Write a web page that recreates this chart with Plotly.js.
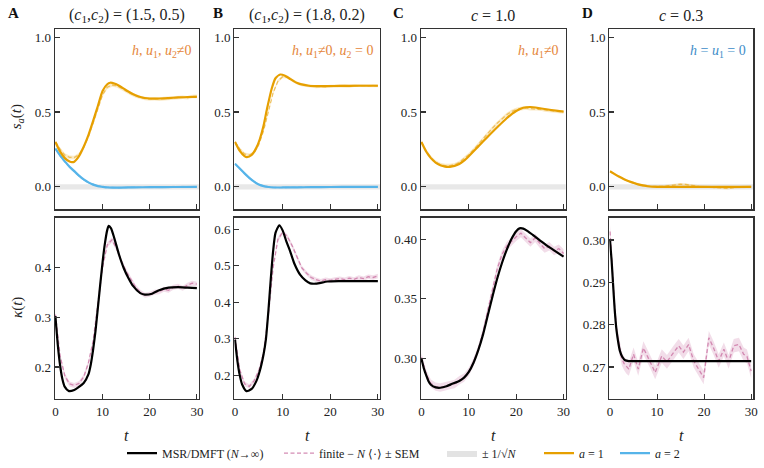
<!DOCTYPE html>
<html>
<head>
<meta charset="utf-8">
<script src="https://cdn.plot.ly/plotly-3.0.1.min.js"></script>
<style>
  html, body { margin: 0; padding: 0; background: #fff; }
  #chart { width: 764px; height: 468px; }
</style>
</head>
<body>
<div id="chart"></div>
<script>
// ---------- time grid shared by the finite-N simulations ----------
const tGrid = [0,1,2,3,4,5,6,7,8,9,10,11,12,13,14,15,16,17,18,19,20,21,22,23,24,25,26,27,28,29,30];

// ---------- Panel A: (c1,c2) = (1.5, 0.5) ----------
const tA1 = [0,1,2,3,3.5,4,5,6,7,8,9,10,11,11.6,12.5,13.5,15,16.6,18,20,22,24,26,28,30];
const sA1 = [0.300,0.235,0.192,0.170,0.165,0.168,0.205,0.268,0.345,0.440,0.540,0.640,0.685,0.695,0.690,0.675,0.645,0.617,0.600,0.590,0.590,0.593,0.597,0.600,0.601];
const tA2 = [0,1,2,3,4,5,6,7,8,9,10,11,12,14,17,20,25,30];
const sA2 = [0.255,0.210,0.170,0.135,0.105,0.075,0.050,0.030,0.015,0.005,0.000,-0.004,-0.005,-0.005,-0.003,-0.002,-0.001,0.000];
const sA1fin = [0.300,0.250,0.212,0.197,0.196,0.215,0.265,0.335,0.425,0.525,0.615,0.665,0.680,0.676,0.660,0.640,0.622,0.607,0.596,0.590,0.586,0.588,0.585,0.590,0.592,0.590,0.596,0.598,0.595,0.603,0.604];
const sA2fin = [0.255,0.205,0.165,0.130,0.100,0.072,0.047,0.029,0.015,0.006,0.000,-0.004,-0.003,-0.006,-0.004,-0.002,-0.005,-0.002,-0.004,-0.001,-0.003,-0.002,0.000,-0.003,-0.004,0.002,-0.002,0.001,-0.002,0.000,0.001];
const tAk = [0,0.5,1,1.5,2,2.8,4,5,6,7,7.5,8,8.5,9,9.5,10,10.5,11,11.3,11.8,12.5,13.5,14.5,15.5,16.5,18,19,20.5,22,24,26,28,30];
const kA = [0.302,0.245,0.203,0.175,0.160,0.152,0.154,0.160,0.168,0.185,0.205,0.235,0.272,0.318,0.365,0.410,0.448,0.475,0.483,0.478,0.458,0.425,0.398,0.378,0.362,0.348,0.345,0.347,0.354,0.359,0.360,0.359,0.358];
const kAfin = [0.305,0.222,0.182,0.166,0.163,0.167,0.180,0.208,0.252,0.325,0.400,0.445,0.455,0.437,0.412,0.392,0.375,0.360,0.350,0.344,0.346,0.350,0.351,0.356,0.354,0.360,0.362,0.358,0.364,0.368,0.366];

// ---------- Panel B: (c1,c2) = (1.8, 0.2) ----------
const tB1 = [0,1,2,2.5,3.5,4.5,5.2,6,6.7,7.7,8.5,9.5,10.5,11.5,12.3,13.2,14,15.5,18,22,26,30];
const sB1 = [0.300,0.240,0.205,0.198,0.213,0.262,0.318,0.410,0.518,0.655,0.725,0.750,0.742,0.722,0.706,0.692,0.684,0.675,0.672,0.674,0.675,0.675];
const tB2 = [0,1,2,3,4,5,6,7,8,10,13,16,20,25,30];
const sB2 = [0.155,0.122,0.090,0.060,0.035,0.016,0.005,-0.001,-0.004,-0.004,-0.003,-0.002,-0.001,0.000,0.000];
const sB1fin = [0.300,0.252,0.220,0.213,0.228,0.282,0.375,0.505,0.628,0.705,0.735,0.733,0.712,0.694,0.682,0.676,0.671,0.669,0.670,0.668,0.672,0.671,0.673,0.675,0.672,0.676,0.674,0.677,0.675,0.676,0.675];
const sB2fin = [0.155,0.120,0.088,0.058,0.034,0.016,0.006,0.000,-0.003,-0.005,-0.002,-0.004,-0.003,-0.001,-0.004,-0.002,-0.003,0.000,-0.002,-0.003,0.001,-0.002,-0.001,-0.003,0.000,0.002,-0.002,0.000,-0.001,0.001,0.000];
const tBk = [0,0.5,1,1.5,2.4,3.5,4.5,5.2,6,6.5,7,7.5,8,8.5,9.3,10,10.8,11.6,12.5,13.7,14.8,15.8,17,19.4,22,26,30];
const kB = [0.298,0.240,0.200,0.175,0.157,0.163,0.185,0.212,0.258,0.300,0.375,0.462,0.540,0.590,0.611,0.597,0.566,0.539,0.505,0.475,0.460,0.452,0.451,0.457,0.458,0.458,0.458];
const kBfin = [0.305,0.215,0.177,0.170,0.185,0.213,0.262,0.365,0.495,0.572,0.592,0.580,0.555,0.524,0.495,0.480,0.468,0.462,0.458,0.462,0.460,0.463,0.465,0.462,0.466,0.463,0.468,0.465,0.470,0.468,0.472];

// ---------- Panel C: c = 1.0 ----------
const tC1 = [0,1,2,3,4,5,6,7,8,9,10,12,14,16,18,20,21.5,23,25,27,30];
const sC1 = [0.300,0.236,0.192,0.162,0.144,0.135,0.134,0.140,0.153,0.175,0.205,0.270,0.335,0.398,0.458,0.506,0.528,0.533,0.525,0.515,0.502];
const sC1fin = [0.300,0.240,0.196,0.166,0.149,0.142,0.142,0.148,0.163,0.187,0.215,0.248,0.285,0.322,0.357,0.392,0.425,0.456,0.482,0.503,0.516,0.523,0.527,0.522,0.519,0.521,0.514,0.510,0.504,0.503,0.500];
const tCk = [0,0.5,1,1.5,2,3,4,5.3,6.5,8,9,10,11,12,13,14,15,16,17,18,19,20,20.7,21.5,22.5,23.5,25,26.5,28,30];
const kC = [0.300,0.292,0.286,0.281,0.278,0.2758,0.2755,0.2768,0.2788,0.2812,0.284,0.2888,0.2965,0.307,0.320,0.336,0.352,0.367,0.380,0.391,0.400,0.4065,0.409,0.4088,0.4065,0.4035,0.399,0.3945,0.3905,0.3853];
const kCfin = [0.301,0.287,0.279,0.2765,0.2757,0.2768,0.2778,0.2787,0.2818,0.2840,0.2888,0.2970,0.3075,0.322,0.340,0.358,0.375,0.387,0.394,0.398,0.402,0.405,0.401,0.397,0.401,0.396,0.392,0.394,0.390,0.392,0.388];

// ---------- Panel D: c = 0.3 ----------
const tD1 = [0,1,2,3,4,5,6,7,8,9,10,15,20,25,30];
const sD1 = [0.104,0.085,0.067,0.051,0.038,0.027,0.017,0.010,0.004,0.001,0.000,0.000,0.000,0.000,0.000];
const sD1fin = [0.102,0.084,0.066,0.050,0.037,0.026,0.016,0.009,0.004,0.002,0.002,0.003,0.006,0.010,0.015,0.018,0.016,0.010,0.005,0.002,0.001,0.000,-0.002,-0.004,-0.008,-0.010,-0.005,-0.001,0.000,0.001,0.002];
const tDk = [0,0.35,0.7,1,1.4,1.8,2.1,2.6,3.2,4,6,10,15,20,25,30];
const kD = [0.3000,0.2950,0.2887,0.2835,0.2785,0.2755,0.2738,0.2724,0.2716,0.2714,0.2714,0.2714,0.2714,0.2714,0.2714,0.2714];
const tDkfin = [0,0.5,1,1.5,2,2.5,3,3.5,4,5,6,7.1,8.5,9.6,11,12.1,13.5,14.6,15.6,16.7,17.8,18.8,19.9,21,22,23.1,24.2,25.2,26.3,27.4,28.4,29.1,30];
const kDfin = [0.3020,0.2930,0.2840,0.2780,0.2745,0.2720,0.2708,0.2700,0.2695,0.2730,0.2695,0.2745,0.2714,0.2687,0.2726,0.2712,0.2734,0.2750,0.2735,0.2753,0.2714,0.2695,0.2675,0.2769,0.2745,0.2714,0.2742,0.2712,0.2750,0.2753,0.2730,0.2725,0.2690];

// standard errors of the finite-N averages, and the 1/sqrt(N) scale
const semS = { A1: 0.012, A2: 0.006, B1: 0.010, B2: 0.005, C1: 0.012, D1: 0.008 };
const semK = { A: 0.005, B: 0.006, C: 0.0035, D: 0.0016 };
const invSqrtN = 0.018;

// ---------- styling ----------
const ORANGE = '#E69F00', BLUE = '#56B4E9', PINK = '#cc79a7';
const FONT = 'Liberation Serif, Times New Roman, serif';
const W = 764, H = 468;
const px = v => v / W;            // pixel -> paper x
const py = v => 1 - v / H;        // pixel -> paper y

const traces = [];

function semBand(t, m, sem, xa, ya, fill) {
  const up = m.map(v => v + sem);
  const lo = m.map(v => v - sem);
  traces.push({
    x: t.concat(t.slice().reverse()),
    y: up.concat(lo.slice().reverse()),
    xaxis: xa, yaxis: ya, type: 'scatter', mode: 'lines',
    fill: 'toself', fillcolor: fill, line: { width: 0 },
    hoverinfo: 'skip', showlegend: false
  });
}
function dashed(t, m, xa, ya, color, extra) {
  traces.push(Object.assign({
    x: t, y: m, xaxis: xa, yaxis: ya, type: 'scatter', mode: 'lines',
    line: { color: color, width: 1.3, dash: '4px,2.5px' }, showlegend: false
  }, extra || {}));
}
function solid(t, m, xa, ya, color, extra) {
  traces.push(Object.assign({
    x: t, y: m, xaxis: xa, yaxis: ya, type: 'scatter', mode: 'lines',
    line: { color: color, width: 2.2, shape: 'spline', smoothing: 0.6 }, showlegend: false
  }, extra || {}));
}

const bandO = 'rgba(230,159,0,0.22)', dashO = 'rgba(230,159,0,0.55)';
const bandB = 'rgba(86,180,233,0.25)', dashB = 'rgba(86,180,233,0.6)';
const bandP = 'rgba(204,121,167,0.25)', dashP = 'rgba(204,121,167,0.85)';

// top row: order parameters s_a(t)
semBand(tGrid, sA1fin, semS.A1, 'x', 'y', bandO);
semBand(tGrid, sA2fin, semS.A2, 'x', 'y', bandB);
dashed(tGrid, sA1fin, 'x', 'y', dashO);
dashed(tGrid, sA2fin, 'x', 'y', dashB);
solid(tA2, sA2, 'x', 'y', BLUE, { name: '<i>a</i> = 2', showlegend: true, legend: 'legend5' });
solid(tA1, sA1, 'x', 'y', ORANGE, { name: '<i>a</i> = 1', showlegend: true, legend: 'legend4' });

semBand(tGrid, sB1fin, semS.B1, 'x2', 'y2', bandO);
semBand(tGrid, sB2fin, semS.B2, 'x2', 'y2', bandB);
dashed(tGrid, sB1fin, 'x2', 'y2', dashO);
dashed(tGrid, sB2fin, 'x2', 'y2', dashB);
solid(tB2, sB2, 'x2', 'y2', BLUE);
solid(tB1, sB1, 'x2', 'y2', ORANGE);

semBand(tGrid, sC1fin, semS.C1, 'x3', 'y3', bandO);
dashed(tGrid, sC1fin, 'x3', 'y3', dashO);
solid(tC1, sC1, 'x3', 'y3', ORANGE);

semBand(tGrid, sD1fin, semS.D1, 'x4', 'y4', bandO);
dashed(tGrid, sD1fin, 'x4', 'y4', dashO);
solid(tD1, sD1, 'x4', 'y4', ORANGE);

// bottom row: kappa(t)
semBand(tGrid, kAfin, semK.A, 'x5', 'y5', bandP);
dashed(tGrid, kAfin, 'x5', 'y5', dashP, { name: 'finite \u2212 <i>N</i> \u27E8\u00B7\u27E9 \u00B1 SEM', showlegend: true, legend: 'legend2' });
solid(tAk, kA, 'x5', 'y5', '#000', { name: 'MSR/DMFT (<i>N</i>\u2192\u221E)', showlegend: true, legend: 'legend' });

semBand(tGrid, kBfin, semK.B, 'x6', 'y6', bandP);
dashed(tGrid, kBfin, 'x6', 'y6', dashP);
solid(tBk, kB, 'x6', 'y6', '#000');

semBand(tGrid, kCfin, semK.C, 'x7', 'y7', bandP);
dashed(tGrid, kCfin, 'x7', 'y7', dashP);
solid(tCk, kC, 'x7', 'y7', '#000');

semBand(tDkfin, kDfin, semK.D, 'x8', 'y8', bandP);
dashed(tDkfin, kDfin, 'x8', 'y8', dashP);
solid(tDk, kD, 'x8', 'y8', '#000', { line: { color: '#000', width: 2.2, shape: 'spline', smoothing: 0.4 } });

// legend-only entry for the 1/sqrt(N) band
traces.push({
  x: [null], y: [null], xaxis: 'x', yaxis: 'y', type: 'scatter', mode: 'lines',
  fill: 'toself', fillcolor: '#e3e3e3', line: { width: 0 },
  name: '\u00B1 1/\u221A<i>N</i>', showlegend: true, legend: 'legend3'
});

// ---------- axes ----------
const colX = [[54.7, 199], [234.3, 380], [420.7, 565.7], [609.3, 753.3]];
const rowTop = [29, 210.7], rowBot = [219, 401.7];
const xRange = [-0.15, 30.45];
const topRange = [-0.15, 1.055];
const botRanges = [[0.1355, 0.4996], [0.135, 0.632], [0.266, 0.418], [0.2624, 0.3053]];
const botTicks = [[0.2, 0.3, 0.4], [0.2, 0.3, 0.4, 0.5, 0.6], [0.30, 0.35, 0.40], [0.27, 0.28, 0.29, 0.30]];
const botFmt = ['.1f', '.1f', '.2f', '.2f'];

const axisBase = {
  showline: true, mirror: true, linecolor: '#333', linewidth: 1.2,
  ticks: 'inside', ticklen: 5, tickwidth: 1.1, tickcolor: '#333',
  showgrid: false, zeroline: false, fixedrange: true,
  tickfont: { family: FONT, size: 13, color: '#222' }
};

const layout = {
  width: W, height: H,
  margin: { l: 0, r: 0, t: 0, b: 0 },
  paper_bgcolor: '#fff', plot_bgcolor: '#fff',
  font: { family: FONT, color: '#222' },
  shapes: [], annotations: []
};

for (let i = 0; i < 4; i++) {
  const xd = [px(colX[i][0]), px(colX[i][1])];
  const top = i + 1, bot = i + 5;
  const xt = top === 1 ? 'xaxis' : 'xaxis' + top, yt = top === 1 ? 'yaxis' : 'yaxis' + top;
  layout[xt] = Object.assign({}, axisBase, {
    domain: xd, range: xRange, tickvals: [0, 10, 20, 30], showticklabels: false, anchor: 'y' + (top === 1 ? '' : top)
  });
  layout[yt] = Object.assign({}, axisBase, {
    domain: [py(rowTop[1]), py(rowTop[0])], range: topRange, tickvals: [0, 0.5, 1.0], tickformat: '.1f',
    anchor: 'x' + (top === 1 ? '' : top)
  });
  layout['xaxis' + bot] = Object.assign({}, axisBase, {
    domain: xd, range: xRange, tickvals: [0, 10, 20, 30], anchor: 'y' + bot
  });
  layout['yaxis' + bot] = Object.assign({}, axisBase, {
    domain: [py(rowBot[1]), py(rowBot[0])], range: botRanges[i], tickvals: botTicks[i], tickformat: botFmt[i],
    anchor: 'x' + bot
  });
  // +-1/sqrt(N) reference band around zero
  const xr = top === 1 ? 'x' : 'x' + top, yr = top === 1 ? 'y' : 'y' + top;
  layout.shapes.push({
    type: 'rect', xref: xr + ' domain', yref: yr, x0: 0, x1: 1,
    y0: -invSqrtN, y1: invSqrtN, fillcolor: '#e8e8e8', line: { width: 0 }, layer: 'below'
  });
}

// ---------- text ----------
function note(text, x, y, opts) {
  layout.annotations.push(Object.assign({
    text: text, xref: 'paper', yref: 'paper', x: px(x), y: py(y),
    xanchor: 'center', yanchor: 'middle', showarrow: false,
    font: { family: FONT, size: 14, color: '#222' }
  }, opts || {}));
}
const colCenter = colX.map(c => (c[0] + c[1]) / 2);
const titles = [
  '(<i>c</i><sub>1</sub>,<i>c</i><sub>2</sub>) = (1.5, 0.5)',
  '(<i>c</i><sub>1</sub>,<i>c</i><sub>2</sub>) = (1.8, 0.2)',
  '<i>c</i> = 1.0',
  '<i>c</i> = 0.3'
];
const letters = ['A', 'B', 'C', 'D'];
const letterX = [13, 218, 399, 587];
for (let i = 0; i < 4; i++) {
  note(titles[i], colCenter[i], 16, { font: { family: FONT, size: 16, color: '#222' } });
  note('<b>' + letters[i] + '</b>', letterX[i], 13, { font: { family: FONT, size: 15, color: '#111' } });
  note('<i>t</i>', colCenter[i], 438, { font: { family: FONT, size: 16, color: '#222' } });
}
const labelO = '#e5863a', labelB = '#3d8cc8';
note('<i>h</i>, <i>u</i><sub>1</sub>, <i>u</i><sub>2</sub>\u22600', 194, 52, { xanchor: 'right', font: { family: FONT, size: 14, color: labelO } });
note('<i>h</i>, <i>u</i><sub>1</sub>\u22600, <i>u</i><sub>2</sub> = 0', 375, 52, { xanchor: 'right', font: { family: FONT, size: 14, color: labelO } });
note('<i>h</i>, <i>u</i><sub>1</sub>\u22600', 561, 52, { xanchor: 'right', font: { family: FONT, size: 14, color: labelO } });
note('<i>h</i> = <i>u</i><sub>1</sub> = 0', 748, 52, { xanchor: 'right', font: { family: FONT, size: 14, color: labelB } });
note('<i>s<sub>a</sub></i>(<i>t</i>)', 17, 118, { textangle: -90, font: { family: FONT, size: 15, color: '#222' } });
note('<i>\u03BA</i>(<i>t</i>)', 17, 310, { textangle: -90, font: { family: FONT, size: 15, color: '#222' } });

// ---------- legends placed one entry at a time along the bottom ----------
const legendTextX = [160, 317, 480, 577, 653];
const legendKeys = ['legend', 'legend2', 'legend3', 'legend4', 'legend5'];
legendKeys.forEach((k, i) => {
  layout[k] = {
    orientation: 'h', x: px(legendTextX[i] - 38), xanchor: 'left',
    y: py(456), yanchor: 'middle', bgcolor: 'rgba(0,0,0,0)',
    font: { family: FONT, size: 12, color: '#222' }, itemwidth: 30
  };
});

Plotly.newPlot('chart', traces, layout, { displayModeBar: false, staticPlot: true });
</script>
</body>
</html>
